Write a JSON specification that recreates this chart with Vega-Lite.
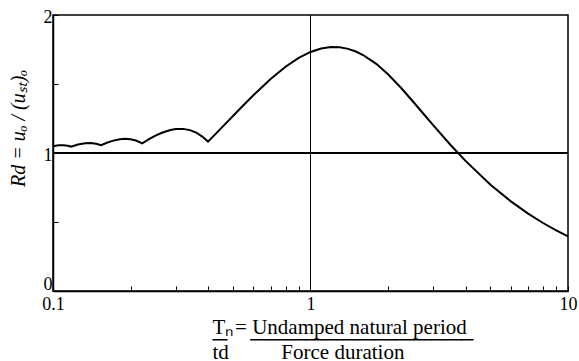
{
  "$schema": "https://vega.github.io/schema/vega-lite/v6.json",
  "width": 515,
  "height": 276,
  "autosize": "none",
  "padding": {"left": 53, "top": 15, "right": 11, "bottom": 70},
  "background": "white",
  "config": {
    "view": {"stroke": "black", "strokeWidth": 1.5},
    "font": "Liberation Serif"
  },
  "data": {
    "values": [
      {"x": 0.100, "r": 1.0497}, {"x": 0.105, "r": 1.0554}, {"x": 0.110, "r": 1.0558},
      {"x": 0.114, "r": 1.0524}, {"x": 0.1176, "r": 1.0464}, {"x": 0.125, "r": 1.0621},
      {"x": 0.1333, "r": 1.0714}, {"x": 0.140, "r": 1.0724}, {"x": 0.147, "r": 1.0672},
      {"x": 0.1538, "r": 1.0562}, {"x": 0.160, "r": 1.0704}, {"x": 0.170, "r": 1.0881},
      {"x": 0.1818, "r": 1.1000}, {"x": 0.190, "r": 1.1027}, {"x": 0.200, "r": 1.0998},
      {"x": 0.210, "r": 1.0903}, {"x": 0.2222, "r": 1.0699}, {"x": 0.235, "r": 1.0981},
      {"x": 0.250, "r": 1.1255}, {"x": 0.265, "r": 1.1469}, {"x": 0.2857, "r": 1.1667},
      {"x": 0.300, "r": 1.1737}, {"x": 0.320, "r": 1.1748}, {"x": 0.340, "r": 1.1658},
      {"x": 0.360, "r": 1.1472}, {"x": 0.380, "r": 1.1193}, {"x": 0.400, "r": 1.0825},
      {"x": 0.43, "r": 1.1421}, {"x": 0.45, "r": 1.1799}, {"x": 0.5, "r": 1.2681},
      {"x": 0.55, "r": 1.3477}, {"x": 0.6, "r": 1.4182}, {"x": 0.7, "r": 1.5359},
      {"x": 0.8, "r": 1.6249}, {"x": 0.9, "r": 1.6891}, {"x": 1.0, "r": 1.7321},
      {"x": 1.1, "r": 1.7577}, {"x": 1.2, "r": 1.7678}, {"x": 1.3, "r": 1.7662},
      {"x": 1.4, "r": 1.7546}, {"x": 1.5, "r": 1.7355}, {"x": 1.6, "r": 1.7101},
      {"x": 1.8, "r": 1.6462}, {"x": 2.0, "r": 1.5708}, {"x": 2.25, "r": 1.4709},
      {"x": 2.5, "r": 1.3734}, {"x": 2.75, "r": 1.2827}, {"x": 3.0, "r": 1.2000},
      {"x": 3.5, "r": 1.0580}, {"x": 4.0, "r": 0.9428}, {"x": 5.0, "r": 0.7705},
      {"x": 6.0, "r": 0.6495}, {"x": 7.0, "r": 0.5606}, {"x": 8.0, "r": 0.4927},
      {"x": 9.0, "r": 0.4393}, {"x": 10, "r": 0.3963}
    ]
  },
  "layer": [
    {
      "mark": {"type": "rule", "color": "black", "strokeWidth": 1},
      "encoding": {"x": {"datum": 1, "type": "quantitative"}}
    },
    {
      "mark": {"type": "rule", "color": "black", "strokeWidth": 1},
      "encoding": {"y": {"datum": 1, "type": "quantitative"}}
    },
    {
      "mark": {"type": "line", "color": "black", "strokeWidth": 2},
      "encoding": {
        "x": {
          "field": "x", "type": "quantitative",
          "scale": {"type": "log", "domain": [0.1, 10], "nice": false},
          "axis": {
            "values": [0.1, 0.2, 0.3, 0.4, 0.5, 0.6, 0.7, 0.8, 0.9, 1, 2, 3, 4, 5, 6, 7, 8, 9, 10],
            "labelExpr": "(datum.value == 0.1 || datum.value == 1 || datum.value == 10) ? datum.label : ''",
            "format": "~g",
            "grid": false,
            "domainColor": "black", "domainWidth": 1.5,
            "tickColor": "black", "tickSize": -5, "tickWidth": 1,
            "labelFont": "Liberation Serif", "labelFontSize": 18, "labelColor": "black",
            "labelPadding": 9, "labelOverlap": false, "labelFlush": false,
            "title": ["Tₙ\u200A=\u2005Undamped natural period", "─\u2003\u200A───────────────", "td\u2003\u2003\u2002Force duration"],
            "titleFont": "Liberation Serif", "titleFontSize": 21, "titleFontWeight": "normal",
            "titleColor": "black", "titleAlign": "left", "titleAnchor": "start",
            "titleX": 159, "titleY": 42, "titleBaseline": "alphabetic", "titleLineHeight": 12.5
          }
        },
        "y": {
          "field": "r", "type": "quantitative",
          "scale": {"domain": [0, 2], "nice": false},
          "axis": {
            "values": [0, 0.5, 1, 1.5, 2],
            "labelExpr": "datum.value % 1 == 0 ? format(datum.value, 'd') : ''",
            "grid": false,
            "domainColor": "black", "domainWidth": 1.5,
            "tickColor": "black", "tickSize": -5, "tickWidth": 1,
            "labelFont": "Liberation Serif", "labelFontSize": 18, "labelColor": "black",
            "labelPadding": 6, "labelFlush": false,
            "labelBaseline": {"condition": {"test": "datum.value == 0", "value": "alphabetic"}, "value": "middle"},
            "labelOffset": {"condition": {"test": "datum.value == 0", "value": -2}, "value": 2},
            "title": "Rd = uₒ / (uₛₜ)ₒ",
            "titleFont": "Liberation Serif", "titleFontSize": 20, "titleFontStyle": "italic",
            "titleFontWeight": "normal", "titleColor": "black",
            "titleX": -35, "titleY": 113, "titleAlign": "center", "titleBaseline": "middle", "titleAngle": -90
          }
        }
      }
    }
  ]
}
